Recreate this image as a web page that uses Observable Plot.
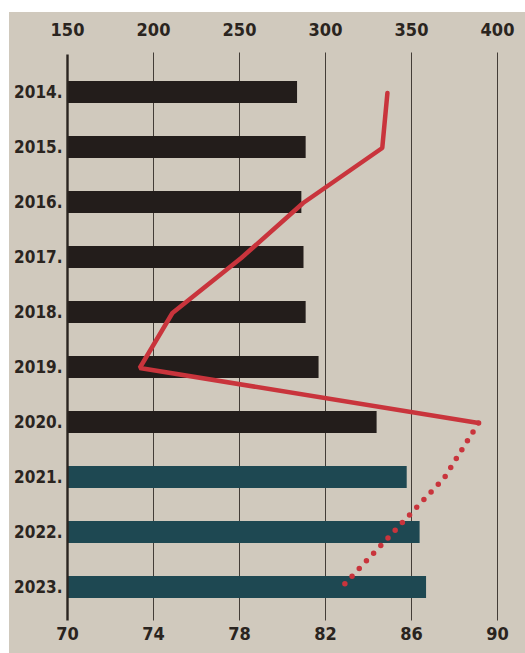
<!DOCTYPE html>
<html>
<head>
<meta charset="utf-8">
<script src="https://cdn.jsdelivr.net/npm/d3@7"></script>
<script src="https://cdn.jsdelivr.net/npm/@observablehq/plot@0.6"></script>
<style>
  html, body { margin: 0; padding: 0; background: #ffffff; }
  #wrap { position: relative; width: 525px; height: 653px; overflow: hidden; }
  #paper { position: absolute; left: 9px; top: 12px; right: 0; bottom: 0; background: #d0c9bd; }
  #chart { position: absolute; left: 0; top: 0; }
  #chart svg text { fill: #2a2420; }
</style>
</head>
<body>
<div id="wrap"><div id="paper"></div><div id="chart"></div></div>
<script>
// Data
const years = [2014, 2015, 2016, 2017, 2018, 2019, 2020, 2021, 2022, 2023];
const barValues = [80.7, 81.1, 80.9, 81.0, 81.1, 81.7, 84.4, 85.8, 86.4, 86.7];
const lineValues = [336, 333, 287, 251, 211, 192, 389, 369, 339, 309];
const firstProjectedYear = 2021;   // teal bars and dotted line
const bottomTicks = [70, 74, 78, 82, 86, 90];
const topTicks = [150, 200, 250, 300, 350, 400];

const barColor = "#231d1b";
const projColor = "#1e4852";
const lineColor = "#c9343c";
const inkColor = "#2a2420";

// map the top (line) scale onto the shared x scale
const lo = topTicks[0], hi = topTicks[topTicks.length - 1];
const blo = bottomTicks[0], bhi = bottomTicks[bottomTicks.length - 1];
const toX = v => blo + (v - lo) * (bhi - blo) / (hi - lo);

const rows = years.map((y, i) => ({year: y, bar: barValues[i], line: lineValues[i]}));
const actual = rows.filter(d => d.year < firstProjectedYear);
const projected = rows.filter(d => d.year >= firstProjectedYear);
const solidLine = rows.filter(d => d.year < firstProjectedYear);
const dottedLine = rows.filter(d => d.year >= firstProjectedYear - 1);

const font = '"DejaVu Sans Condensed", "DejaVu Sans", sans-serif';

const chart = Plot.plot({
  width: 525,
  height: 653,
  marginLeft: 67,
  marginRight: 28,
  marginTop: 64.5,
  marginBottom: 37.5,
  x: {domain: [blo, bhi]},
  y: {domain: years, type: "band", padding: 0},
  style: {background: "transparent", fontFamily: font, fontWeight: "bold", color: inkColor, overflow: "visible"},
  marks: [
    Plot.ruleX(bottomTicks.slice(1), {stroke: inkColor, strokeWidth: 1, strokeOpacity: 0.85, insetTop: -12, insetBottom: -5}),
    Plot.barX(actual, {x1: () => blo, x2: "bar", y: "year", fill: barColor, insetTop: 16, insetBottom: 17}),
    Plot.barX(projected, {x1: () => blo, x2: "bar", y: "year", fill: projColor, insetTop: 16, insetBottom: 17}),
    Plot.ruleX([blo], {stroke: inkColor, strokeWidth: 2.4, insetTop: -10, insetBottom: -5}),
    Plot.line(solidLine, {x: d => toX(d.line), y: "year", stroke: lineColor, strokeWidth: 4.5, strokeLinejoin: "miter"}),
    Plot.line(dottedLine, {x: d => toX(d.line), y: "year", stroke: lineColor, strokeWidth: 5.5, strokeDasharray: "0 10.5", strokeLinecap: "round"}),
    Plot.axisX({anchor: "top", ticks: bottomTicks, tickFormat: (d, i) => String(topTicks[i]), tickSize: 0, tickPadding: 29, fontSize: 18, fontWeight: "bold", label: null}),
    Plot.axisX({anchor: "bottom", ticks: bottomTicks, tickFormat: d => String(d), tickSize: 0, tickPadding: 11, fontSize: 18, fontWeight: "bold", label: null}),
    Plot.axisY({anchor: "left", ticks: years, tickFormat: d => d + ".", tickSize: 0, tickPadding: 5, fontSize: 17, fontWeight: "bold", label: null})
  ]
});
document.getElementById("chart").appendChild(chart);
</script>
</body>
</html>
